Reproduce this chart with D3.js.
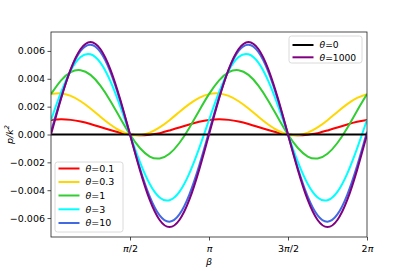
<!DOCTYPE html>
<html>
<head>
<meta charset="utf-8">
<script src="https://d3js.org/d3.v7.min.js"></script>
<style>
  body { margin: 0; background: #fff; }
  text { font-family: "DejaVu Sans", sans-serif; }
</style>
</head>
<body>
<div id="chart"></div>
<script>
var width = 407, height = 271;
var margin = {left: 51, right: 40, top: 32, bottom: 34};

// sample positions, in units of pi
var betaOverPi = [0, 0.0625, 0.125, 0.1875, 0.25, 0.3125, 0.375, 0.4375,
  0.5, 0.5625, 0.625, 0.6875, 0.75, 0.8125, 0.875, 0.9375,
  1, 1.0625, 1.125, 1.1875, 1.25, 1.3125, 1.375, 1.4375,
  1.5, 1.5625, 1.625, 1.6875, 1.75, 1.8125, 1.875, 1.9375, 2];

// p/k^2 values, in units of 1e-3
var valueUnit = 1e-3;
var theta0 = [0,0,0,0,0,0,0,0,0,0,0,0,0,0,0,0,0,0,0,0,0,0,0,0,0,0,0,0,0,0,0,0,0];
var theta01 = [1.04,1.09,1.05,0.94,0.76,0.54,0.32,0.13,0,-0.05,-0.01,0.10,0.29,0.50,0.72,0.91,
  1.04,1.09,1.05,0.94,0.76,0.54,0.32,0.13,0,-0.05,-0.01,0.10,0.29,0.50,0.72,0.91,1.04];
var theta03 = [2.90,2.95,2.77,2.39,1.87,1.28,0.72,0.27,0,-0.05,0.13,0.51,1.03,1.62,2.18,2.63,
  2.90,2.95,2.77,2.39,1.87,1.28,0.72,0.27,0,-0.05,0.13,0.51,1.03,1.62,2.18,2.63,2.90];
var theta1 = [2.90,3.87,4.48,4.62,4.28,3.51,2.43,1.19,0,-0.97,-1.58,-1.72,-1.38,-0.61,0.47,1.71,
  2.90,3.87,4.48,4.62,4.28,3.51,2.43,1.19,0,-0.97,-1.58,-1.72,-1.38,-0.61,0.47,1.71,2.90];
var theta3 = [1.04,3.00,4.59,5.56,5.76,5.16,3.85,2.04,0,-1.96,-3.55,-4.52,-4.72,-4.12,-2.81,-1.00,
  1.04,3.00,4.59,5.56,5.76,5.16,3.85,2.04,0,-1.96,-3.55,-4.52,-4.72,-4.12,-2.81,-1.00,1.04];
var theta10 = [0.19,2.61,4.65,6.00,6.45,5.93,4.52,2.44,0,-2.42,-4.46,-5.81,-6.26,-5.74,-4.33,-2.25,
  0.19,2.61,4.65,6.00,6.45,5.93,4.52,2.44,0,-2.42,-4.46,-5.81,-6.26,-5.74,-4.33,-2.25,0.19];
var theta1000 = [0,2.54,4.70,6.14,6.65,6.14,4.70,2.54,0,-2.54,-4.70,-6.14,-6.65,-6.14,-4.70,-2.54,
  0,2.54,4.70,6.14,6.65,6.14,4.70,2.54,0,-2.54,-4.70,-6.14,-6.65,-6.14,-4.70,-2.54,0];

var seriesLabels = ["0.1", "0.3", "1", "3", "10", "0", "1000"];
var seriesColors = ["#ff0000", "#ffd700", "#32cd32", "#00ffff", "#4169e1", "#000000", "#800080"];
var seriesValues = [theta01, theta03, theta1, theta3, theta10, theta0, theta1000];

var xTicks = [0.5, 1, 1.5, 2];
var xTickLabels = [["", "π", "/2"], ["", "π", ""], ["3", "π", "/2"], ["2", "π", ""]];
var yTicks = [-6, -4, -2, 0, 2, 4, 6];

var svg = d3.select("#chart").append("svg")
    .attr("width", width)
    .attr("height", height);

var x = d3.scaleLinear().domain([0, 2]).range([margin.left, width - margin.right]);
var y = d3.scaleLinear().domain([-7.36, 7.36]).range([height - margin.bottom, margin.top]);

var line = d3.line()
    .x(function(d) { return x(d[0]); })
    .y(function(d) { return y(d[1]); })
    .curve(d3.curveNatural);

var plot = svg.append("g");
plot.append("clipPath").attr("id", "clip").append("rect")
    .attr("x", x(0)).attr("y", y(7.36))
    .attr("width", x(2) - x(0)).attr("height", y(-7.36) - y(7.36));

var curves = plot.append("g").attr("clip-path", "url(#clip)");
seriesValues.forEach(function(vals, i) {
  curves.append("path")
      .datum(vals.map(function(v, j) { return [betaOverPi[j], v]; }))
      .attr("d", line)
      .attr("fill", "none")
      .attr("stroke", seriesColors[i])
      .attr("stroke-width", 2);
});

// axes
var xAxis = svg.append("g")
    .attr("transform", "translate(0," + (height - margin.bottom) + ")")
    .call(d3.axisBottom(x).tickValues(xTicks).tickSize(3.5).tickPadding(3).tickFormat(""));
xAxis.selectAll(".tick text").remove();
xAxis.selectAll(".tick").append("text")
    .attr("y", 14.5)
    .attr("fill", "#000")
    .attr("font-size", "9.5px")
    .attr("text-anchor", "middle")
    .each(function(d, i) {
      var t = d3.select(this);
      var parts = xTickLabels[i];
      t.append("tspan").text(parts[0]);
      t.append("tspan").attr("font-style", "italic").text(parts[1]);
      t.append("tspan").text(parts[2]);
    });

var yAxis = svg.append("g")
    .attr("transform", "translate(" + margin.left + ",0)")
    .call(d3.axisLeft(y).tickValues(yTicks).tickSize(3.5).tickPadding(2.5)
      .tickFormat(function(d) { return (d * valueUnit).toFixed(3).replace("-", "\u2212"); }));
yAxis.selectAll(".tick text").attr("font-size", "9.5px").attr("fill", "#000");

svg.selectAll(".domain").remove();
svg.selectAll(".tick line").attr("stroke", "#222").attr("stroke-width", 0.8);

svg.append("rect")
    .attr("x", x(0)).attr("y", y(7.36))
    .attr("width", x(2) - x(0)).attr("height", y(-7.36) - y(7.36))
    .attr("fill", "none")
    .attr("stroke", "#222")
    .attr("stroke-width", 0.8);

// axis labels
svg.append("text")
    .attr("x", (x(0) + x(2)) / 2)
    .attr("y", 265)
    .attr("text-anchor", "middle")
    .attr("font-size", "9.5px")
    .attr("font-style", "italic")
    .text("β");

var yl = svg.append("text")
    .attr("transform", "translate(13," + y(0) + ") rotate(-90)")
    .attr("text-anchor", "middle")
    .attr("font-size", "9.5px")
    .attr("font-style", "italic");
yl.append("tspan").text("p/k");
yl.append("tspan").attr("font-size", "6.5px").attr("dy", -4).text("2");

// legends
function drawLegend(ids, bx, by, bw, bh, rowY, fs) {
  var g = svg.append("g");
  g.append("rect")
      .attr("x", bx).attr("y", by)
      .attr("width", bw).attr("height", bh)
      .attr("rx", 2.5)
      .attr("fill", "#fff").attr("fill-opacity", 0.8)
      .attr("stroke", "#d0d0d0").attr("stroke-width", 0.8);
  ids.forEach(function(k, i) {
    var yy = rowY[i];
    g.append("line")
        .attr("x1", bx + 3.5).attr("x2", bx + 24.5)
        .attr("y1", yy).attr("y2", yy)
        .attr("stroke", seriesColors[k])
        .attr("stroke-width", 2);
    var t = g.append("text")
        .attr("x", bx + 30.5).attr("y", yy)
        .attr("dy", "0.35em")
        .attr("font-size", fs);
    t.append("tspan").attr("font-style", "italic").text("θ");
    t.append("tspan").text("=" + seriesLabels[k]);
  });
}

drawLegend([5, 6], 289, 36, 73, 27, [45, 57.3], "9.2px");
drawLegend([0, 1, 2, 3, 4], 55, 162, 68, 70, [168.5, 182, 195.5, 209.3, 223], "9.5px");
</script>
</body>
</html>
